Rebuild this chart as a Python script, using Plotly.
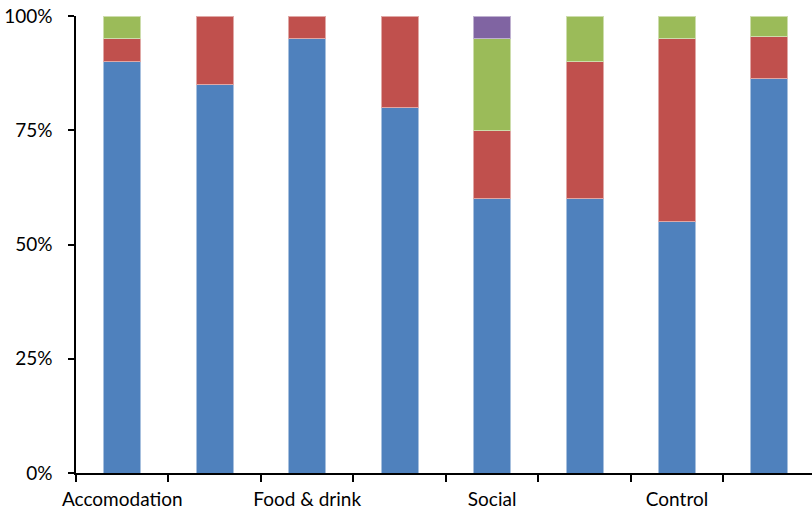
import plotly.graph_objects as go

# Bar slots and their axis labels (every second slot is unlabeled)
slots = ["s1", "s2", "s3", "s4", "s5", "s6", "s7", "s8"]
slot_labels = ["Accomodation", "", "Food & drink", "", "Social", "", "Control", ""]

# Percentage shares per slot, bottom to top
share_blue = [90, 85, 95, 80, 60, 60, 55, 86.4]
share_red = [5, 15, 5, 20, 15, 30, 40, 9.1]
share_green = [5, 0, 0, 0, 20, 10, 5, 4.5]
share_purple = [0, 0, 0, 0, 5, 0, 0, 0]

series = [
    ("Series 1", share_blue, "#4F81BD", "#A7C0DE"),
    ("Series 2", share_red, "#C0504D", "#E0A8A6"),
    ("Series 3", share_green, "#9BBB59", "#CDDDAC"),
    ("Series 4", share_purple, "#8064A2", "#BFB1D0"),
]

fig = go.Figure()
for name, vals, color, edge in series:
    # empty segments are left out so no zero-height outline is drawn
    fig.add_trace(go.Bar(
        x=slots, y=[v if v else None for v in vals], name=name,
        marker=dict(color=color, line=dict(color=edge, width=1)),
        width=0.4,
    ))

font = dict(family="Lato, 'Open Sans', sans-serif", size=19, color="#000000")

fig.update_layout(
    barmode="stack",
    width=812, height=511,
    margin=dict(l=76, r=0, t=16, b=38),
    paper_bgcolor="white", plot_bgcolor="white",
    showlegend=False,
    font=font,
)
fig.update_xaxes(
    type="category",
    tickmode="array", tickvals=slots, ticktext=slot_labels,
    tickson="boundaries",
    tickangle=0, automargin=False,
    range=[-0.5, 7.46],
    showline=True, linecolor="black", linewidth=1.5,
    ticks="outside", ticklen=7, tickcolor="black", tickwidth=1.5,
    ticklabelstandoff=8,
    showgrid=False, zeroline=False,
    tickfont=font,
)
fig.update_yaxes(
    range=[0, 100],
    tickmode="array", tickvals=[0, 25, 50, 75, 100],
    ticktext=["0%", "25%", "50%", "75%", "100%"],
    automargin=False,
    showline=True, linecolor="black", linewidth=1.5,
    ticks="outside", ticklen=6, tickcolor="black", tickwidth=1.5,
    ticklabelstandoff=12,
    showgrid=False, zeroline=False,
    tickfont=font,
)

fig.write_html("out.html")
